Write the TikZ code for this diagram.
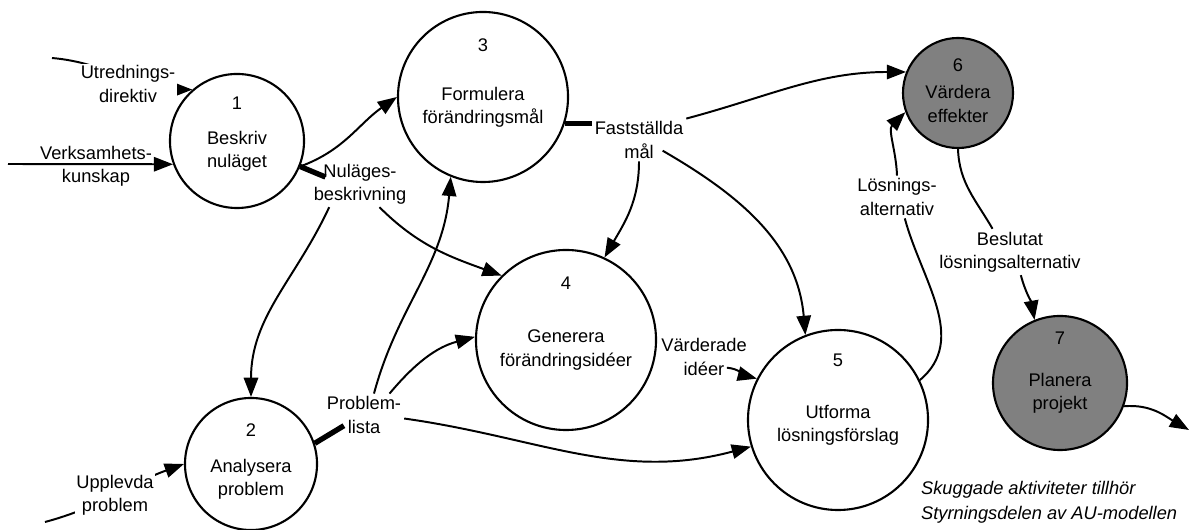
\documentclass[tikz,border=0pt]{standalone}
\usepackage{fontspec}
\setmainfont{Liberation Sans}
\usetikzlibrary{arrows.meta, positioning, calc}

\begin{document}
\begin{tikzpicture} [x=0.025cm, y=0.025cm, on grid,
        every node/.style={align=center, inner sep=2pt, font=\fontsize{13}{16.5}\selectfont},
        proc/.style={circle, draw, line width=1.5pt, inner sep=0pt, minimum size=#1},
        ctrl/.style={proc=#1, fill=black!50},
        flowline/.style={line width=1.4pt},
        flow/.style={flowline, -{Triangle[length=4.8mm, width=3.6mm]}},
        stub/.style={line width=3.8pt},
        cover/.style={fill=white, inner sep=1pt}]
        \useasboundingbox (0,0) rectangle (1200,530);

        \node (p1) [proc=3.35cm] at (237,389) {};
        \node (n1) [above=0.95cm of p1] {1};
        \node (t1) [below=0.25cm of p1] {Beskriv\\nuläget};
        \node (p3) [proc=4.25cm] at (483,433) {};
        \node (n3) [above=1.3cm of p3] {3};
        \node (t3) [below=0.25cm of p3] {Formulera\\förändringsmål};
        \node (p6) [ctrl=2.75cm] at (958,437) {};
        \node (n6) [above=0.7cm of p6] {6};
        \node (t6) [below=0.275cm of p6] {Värdera\\effekter};
        \node (p2) [proc=3.3cm] at (251,66) {};
        \node (n2) [above=0.85cm of p2] {2};
        \node (t2) [below=0.375cm of p2] {Analysera\\problem};
        \node (p4) [proc=4.5cm] at (566,190) {};
        \node (n4) [above=1.425cm of p4] {4};
        \node (t4) [below=0.25cm of p4] {Generera\\förändringsidéer};
        \node (p5) [proc=4.5cm] at (838,110) {};
        \node (n5) [above=1.5cm of p5] {5};
        \node (t5) [below=0.125cm of p5] {Utforma\\lösningsförslag};
        \node (p7) [ctrl=3.35cm] at (1060,147) {};
        \node (n7) [above=1.125cm of p7] {7};
        \node (t7) [below=0.25cm of p7] {Planera\\projekt};

        \node (nb) at (360,346) {Nuläges-\\beskrivning};
        \node (fm) at (639,390) {Fastställda\\mål};
        \node (pl) at (364,115) {Problem-\\lista};
        \node (vi) at (704,173) {Värderade\\idéer};
        \node (la) at (897,333) {Lösnings-\\alternativ};
        \node (bl) at (1010,278) {Beslutat\\lösningsalternativ};
        \node (vk) at (96,364) {Verksamhets-\\kunskap};

        \coordinate (in1) at (52,472);
        \coordinate (in2) at (8,366);
        \coordinate (in3) at (45,8);
        \coordinate (ut) at (1189,100);

        \path [flow] (in1) edge [out=-5, in=180] (p1.131);
        \path [flow] (in2) edge (p1.200);
        \path [flow] (in3) edge [out=15, in=200] (p2.180);
        \node (ud) [cover] at (128,446) {Utrednings-\\direktiv};
        \node (up) [cover] at (115,35) {Upplevda\\problem};

        \draw [stub] (p1.-22) -- ($(nb.west)!0.3!(nb.north)$);
        \path [flow] (p1.-22) edge [out=20, in=215] (p3.180);
        \path [flow] (nb.217) edge [out=245, in=90] (p2.90);
        \path [flow] (nb.-50) edge [out=-45, in=160] (p4.135);

        \draw [stub] (p3.-18) -- (p3.-18 -| fm.west);
        \path [flow] (fm.north east) edge [out=15, in=180] (p6.158);
        \path [flow] (fm.south) edge [out=-90, in=60] (p4.65);
        \path [flow] ($(fm.center)!0.5!(fm.south east)$) edge [out=-30, in=95] (p5.111);

        \draw [stub] (p2.18) -- ($(pl.west)!0.5!(pl.south)$);
        \path [flow] (pl.65) edge [out=75, in=-95] (p3.248);
        \path [flow] (pl.40) edge [out=50, in=195] (p4.178);
        \path [flow] (pl.-5) edge [out=-8, in=195] (p5.197);

        \path [flow] ($(vi.center)!0.5!(vi.south east)$) edge [out=-5, in=165] (p5.153);
        \path [flowline] (p5.26) edge [out=40, in=-75] (la.-70);
        \path [flow] (la.north) edge [out=92, in=225] (p6.200);
        \path [flowline] (p6.-90) edge [out=-88, in=120] (bl.127);
        \path [flow] (bl.-65) edge [out=-75, in=100] (p7.112);
        \path [flow] (p7.-20) edge [out=5, in=150] (ut);

        \node (note) [anchor=west, align=left, font=\fontsize{13}{17.5}\selectfont\itshape] at (918,28)
            {Skuggade aktiviteter tillhör\\Styrningsdelen av AU-modellen};

    \end{tikzpicture}
\end{document}
